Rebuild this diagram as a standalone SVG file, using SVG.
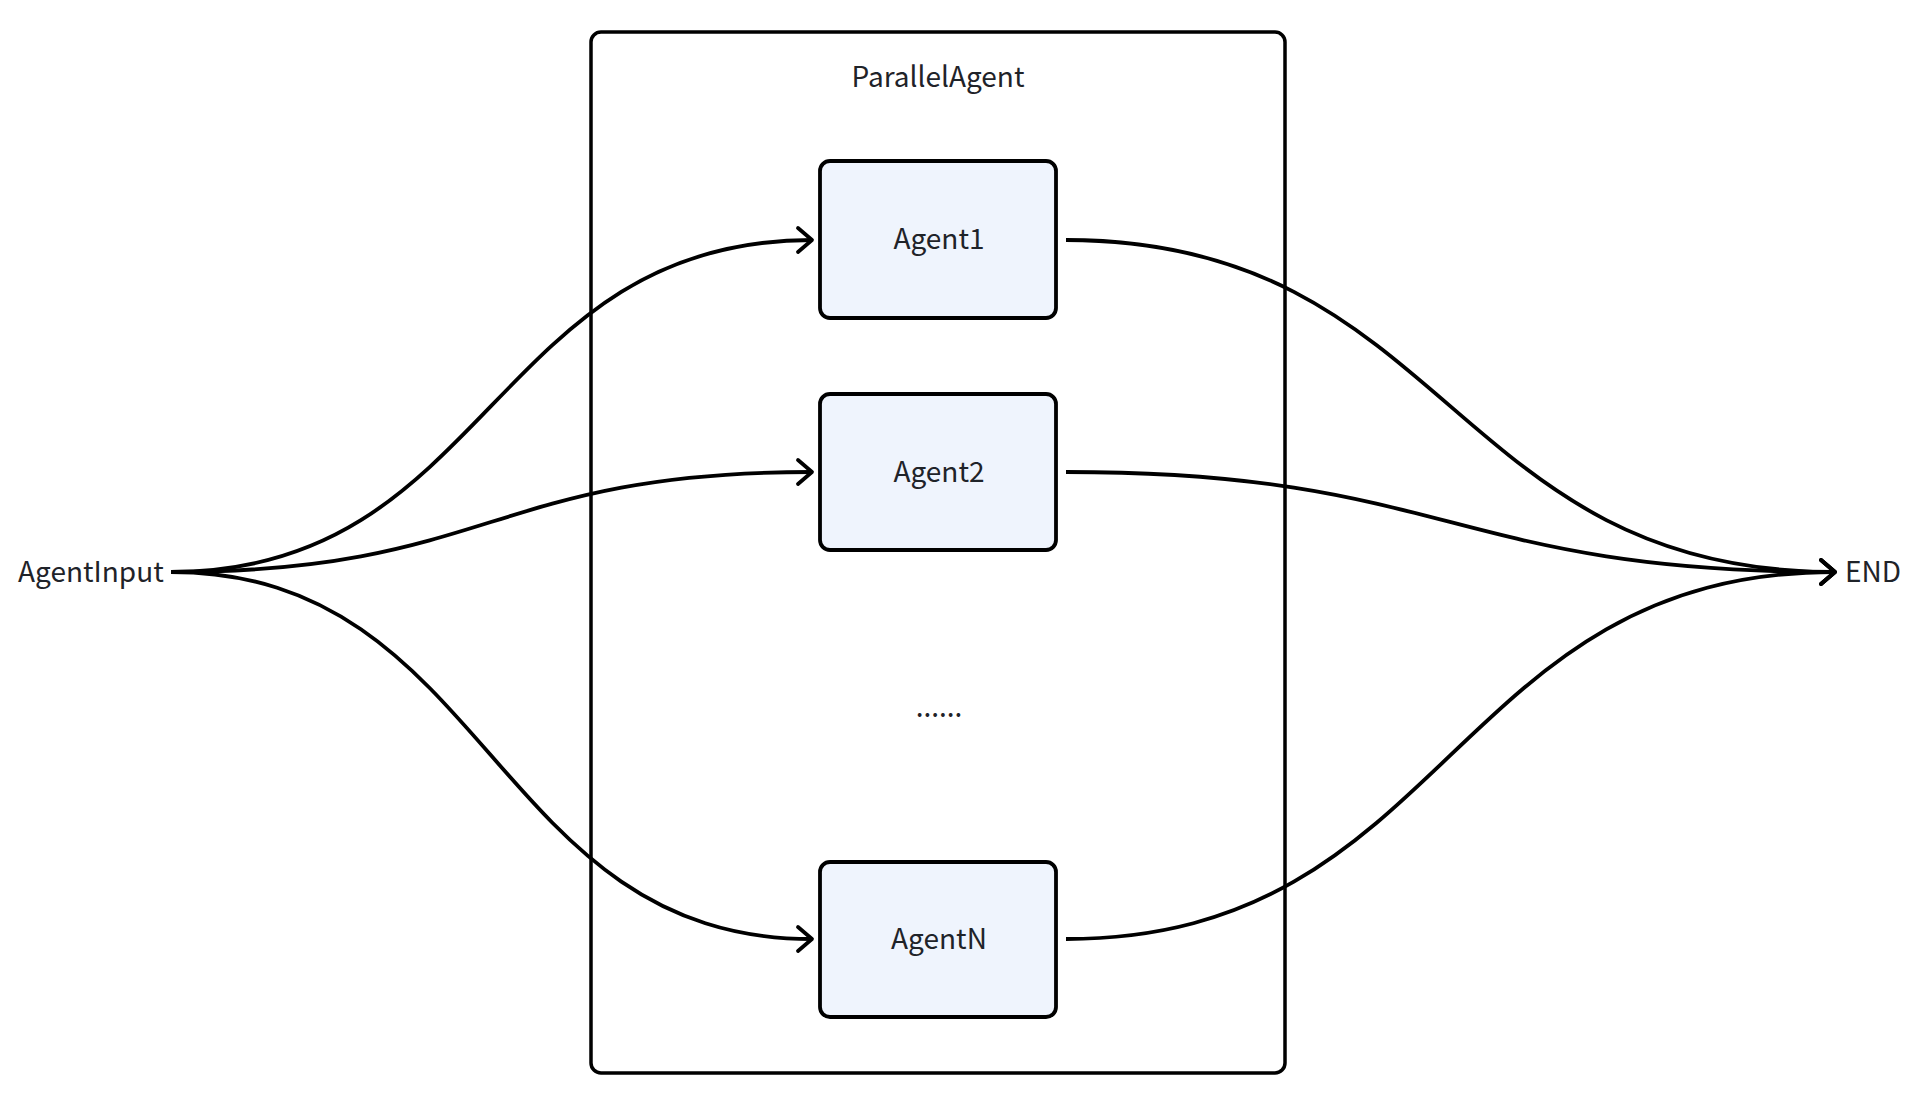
<svg xmlns="http://www.w3.org/2000/svg" width="1918" height="1093" viewBox="0 0 1918 1093">
<style>
text{font-family:"Noto Sans CJK SC","Noto Sans","Liberation Sans",sans-serif;font-size:28px;fill:#1f2329;}
.agent{fill:#eff4fd;stroke:#000;stroke-width:3.8;}
.frame{fill:#fff;stroke:#000;stroke-width:3.5;}
.edge{fill:none;stroke:#000;stroke-width:3.8;marker-end:url(#arr);}
</style>
<defs>
<marker id="arr" markerUnits="userSpaceOnUse" markerWidth="40" markerHeight="40" viewBox="-20 -20 40 40" refX="0" refY="0" orient="auto">
<path d="M-14,-12 L0,0 L-14,12" fill="none" stroke="#000" stroke-width="3.8" stroke-linecap="round" stroke-linejoin="round"/>
</marker>
</defs>
<rect width="1918" height="1093" fill="#fff"/>
<g id="ParallelAgent">
<rect class="frame" x="591" y="32" width="694" height="1041" rx="10"/>
<text x="938" y="87" text-anchor="middle">ParallelAgent</text>
</g>
<g id="AgentInput"><text x="18" y="582">AgentInput</text></g>
<g id="END"><text x="1845" y="582">END</text></g>
<g id="Agent1">
<rect class="agent" x="820" y="161" width="236" height="157" rx="10"/>
<text x="939" y="249" text-anchor="middle">Agent1</text>
</g>
<g id="Agent2">
<rect class="agent" x="820" y="394" width="236" height="156" rx="10"/>
<text x="939" y="482" text-anchor="middle">Agent2</text>
</g>
<g id="ellipsis"><text x="939" y="717" text-anchor="middle">......</text></g>
<g id="AgentN">
<rect class="agent" x="820" y="862" width="236" height="155" rx="10"/>
<text x="939" y="949" text-anchor="middle">AgentN</text>
</g>
<g id="connectors">
<path class="edge" d="M171,572 C491,572 491,240 812,240"/>
<path class="edge" d="M171,572 C491,572 491,472 812,472"/>
<path class="edge" d="M171,572 C491,572 491,939 812,939"/>
<path class="edge" d="M1066,240 C1450,240 1450,572 1835,572"/>
<path class="edge" d="M1066,472 C1450,472 1450,572 1835,572"/>
<path class="edge" d="M1066,939 C1450,939 1450,572 1835,572"/>
</g>
</svg>
